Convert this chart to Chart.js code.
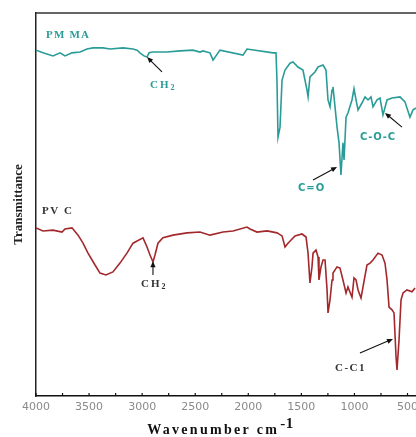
<!DOCTYPE html>
<html>
<head>
<meta charset="utf-8">
<script src="https://cdn.jsdelivr.net/npm/chart.js@4.4.0/dist/chart.umd.min.js"></script>
<style>
html,body{margin:0;padding:0;background:#fff;overflow:hidden;}
canvas{display:block;}
</style>
</head>
<body>
<canvas id="c" width="416" height="437"></canvas>
<script>
// ---- Data ----
const xTickLabels = [4000, 3500, 3000, 2500, 2000, 1500, 1000, 500];
const minorTicks = [4000, 3750, 3500, 3250, 3000, 2750, 2500, 2250, 2000, 1750, 1500, 1250, 1000, 750, 500];

const pmmaWavenumber = [4000,3934,3840,3774,3727,3661,3585,3520,3463,3369,3303,3180,3086,3048,3020,2983,2954,2935,2898,2766,2643,2521,2455,2427,2361,2332,2267,2050,2012,1767,1739,1730,1720,1701,1682,1654,1607,1579,1532,1485,1447,1437,1419,1372,1343,1296,1268,1249,1230,1211,1202,1183,1164,1145,1127,1108,1098,1079,1061,1023,1004,985,966,929,900,872,844,825,787,759,731,693,646,571,524,477,448,420];
const pmmaT = [90.3,89.6,88.8,89.6,88.8,89.6,89.8,90.6,90.9,90.9,90.6,90.9,90.6,90.3,89.6,88.8,88.5,89.6,89.8,89.8,90.1,90.3,89.8,90.1,89.6,87.7,90.3,89.0,90.6,89.6,89.6,82.5,67.6,70.2,82.5,85.1,86.9,87.2,85.9,85.1,79.9,78.1,83.3,84.6,85.9,86.4,85.1,77.3,75.5,79.9,80.7,75.5,70.2,66.1,57.7,66.1,61.6,72.8,73.9,77.3,80.2,77.3,74.7,76.5,78.1,77.3,78.1,75.5,77.3,77.8,73.4,77.3,77.8,78.1,76.8,72.8,74.7,75.2];

const pvcWavenumber = [4000,3934,3840,3755,3727,3661,3604,3557,3510,3444,3397,3341,3275,3209,3143,3086,2992,2954,2926,2898,2879,2851,2804,2709,2577,2455,2361,2238,2144,2012,1984,1918,1824,1729,1682,1654,1626,1560,1494,1456,1437,1419,1400,1390,1362,1343,1334,1315,1296,1277,1258,1249,1230,1211,1202,1164,1136,1108,1079,1061,1023,1004,985,966,938,919,882,853,825,778,740,712,693,674,646,627,608,599,580,561,542,505,458,429];
const pvcT = [43.9,43.1,43.3,42.8,43.6,43.9,42.0,39.9,37.3,34.2,32.1,31.6,32.4,34.7,37.3,39.9,41.3,38.9,36.8,35.0,36.8,39.9,41.3,42.0,42.6,42.8,42.0,42.8,43.1,44.1,43.6,42.8,43.1,42.6,41.8,38.9,39.9,41.8,42.3,41.5,37.3,29.5,33.7,37.3,38.1,36.3,30.3,33.7,35.5,35.5,27.7,21.7,25.1,30.3,32.1,33.7,33.4,30.3,26.9,28.5,25.8,30.8,30.3,27.7,25.6,28.5,34.2,34.7,35.5,37.3,36.8,34.7,30.3,23.2,22.5,21.7,10.2,6.8,14.6,25.1,26.9,27.7,27.2,28.2];

const seriesNames = ['PMMA', 'PVC'];

// ---- Annotations (in data coordinates) ----
const TEAL = '#2a9c98';
const RED = '#a3282b';
const labels = [
  {parts:[['PM MA',0]], x:3906, y:94.3, color:TEAL, font:'bold 11px "Liberation Serif"', ls:1.2},
  {parts:[['PV C',0]], x:3943, y:48.3, color:'#333', font:'bold 11px "Liberation Serif"', ls:1.5},
  {parts:[['CH',0],['2',1]], x:2926, y:81.2, color:TEAL, font:'bold 11px "Liberation Serif"', ls:2},
  {parts:[['C=O',0]], x:1532, y:54.3, color:TEAL, font:'bold 10px "DejaVu Sans"', ls:1},
  {parts:[['C-O-C',0]], x:948, y:67.4, color:TEAL, font:'bold 10px "DejaVu Sans"', ls:0.8},
  {parts:[['CH',0],['2',1]], x:3011, y:29.2, color:'#333', font:'bold 11px "Liberation Serif"', ls:2},
  {parts:[['C-C1',0]], x:1183, y:7.3, color:'#333', font:'bold 11px "Liberation Serif"', ls:1.5}
];
const arrows = [
  {x1:2813, y1:84.6, x2:2954, y2:88.5},
  {x1:1390, y1:56.4, x2:1164, y2:59.8},
  {x1:552, y1:70.2, x2:712, y2:73.9},
  {x1:2898, y1:31.6, x2:2898, y2:35.2},
  {x1:948, y1:11.2, x2:637, y2:14.9}
];

function toXY(xs, ys){ return xs.map((x,i)=>({x:x, y:ys[i]})); }

const decor = {
  id:'decor',
  afterDraw(chart){
    const ctx = chart.ctx, ca = chart.chartArea;
    const sx = chart.scales.x, sy = chart.scales.y;
    ctx.save();
    // top frame line
    ctx.strokeStyle = '#333'; ctx.lineWidth = 1.5;
    ctx.beginPath(); ctx.moveTo(ca.left, ca.top); ctx.lineTo(ca.right, ca.top); ctx.stroke();
    // inward minor ticks
    ctx.strokeStyle = '#111'; ctx.lineWidth = 1.2;
    minorTicks.forEach(v=>{
      const px = sx.getPixelForValue(v);
      ctx.beginPath(); ctx.moveTo(px, ca.bottom); ctx.lineTo(px, ca.bottom-3); ctx.stroke();
    });
    // arrows
    ctx.strokeStyle = '#111'; ctx.fillStyle = '#111'; ctx.lineWidth = 1.1;
    arrows.forEach(a=>{
      const x1 = sx.getPixelForValue(a.x1), y1 = sy.getPixelForValue(a.y1);
      const x2 = sx.getPixelForValue(a.x2), y2 = sy.getPixelForValue(a.y2);
      const ang = Math.atan2(y2-y1, x2-x1);
      const L = 6, W = 2.6;
      ctx.beginPath(); ctx.moveTo(x1,y1); ctx.lineTo(x2 - Math.cos(ang)*L*0.6, y2 - Math.sin(ang)*L*0.6); ctx.stroke();
      ctx.beginPath();
      ctx.moveTo(x2,y2);
      ctx.lineTo(x2 - Math.cos(ang)*L - Math.sin(ang)*W, y2 - Math.sin(ang)*L + Math.cos(ang)*W);
      ctx.lineTo(x2 - Math.cos(ang)*L + Math.sin(ang)*W, y2 - Math.sin(ang)*L - Math.cos(ang)*W);
      ctx.closePath(); ctx.fill();
    });
    // labels
    labels.forEach(l=>{
      let px = sx.getPixelForValue(l.x), py = sy.getPixelForValue(l.y);
      ctx.fillStyle = l.color; ctx.textBaseline = 'middle'; ctx.textAlign = 'left';
      l.parts.forEach(p=>{
        if (p[1]) { ctx.font = l.font.replace('11px','8px').replace('10px','8px'); }
        else ctx.font = l.font;
        ctx.letterSpacing = l.ls + 'px';
        ctx.fillText(p[0], px, py + (p[1] ? 3 : 0));
        px += ctx.measureText(p[0]).width;
      });
    });
    // x axis title with superscript
    ctx.fillStyle = '#111'; ctx.textBaseline = 'alphabetic';
    ctx.font = 'bold 14px "Liberation Serif"';
    ctx.letterSpacing = '2.3px';
    const main = 'Wavenumber cm';
    const wMain = ctx.measureText(main).width;
    ctx.font = 'bold 15px "Liberation Serif"';
    ctx.letterSpacing = '0.5px';
    const wSup = ctx.measureText('-1').width;
    const start = 220 - (wMain + wSup)/2;
    ctx.font = 'bold 14px "Liberation Serif"';
    ctx.letterSpacing = '2.3px';
    ctx.fillText(main, start, 434);
    ctx.font = 'bold 15px "Liberation Serif"';
    ctx.letterSpacing = '0.5px';
    ctx.fillText('-1', start + wMain + 1, 428);
    ctx.restore();
  }
};

new Chart(document.getElementById('c'), {
  type:'line',
  data:{
    datasets:[
      {label:seriesNames[0], data:toXY(pmmaWavenumber, pmmaT), borderColor:TEAL, borderWidth:1.6, pointRadius:0, tension:0, fill:false},
      {label:seriesNames[1], data:toXY(pvcWavenumber, pvcT), borderColor:RED, borderWidth:1.6, pointRadius:0, tension:0, fill:false}
    ]
  },
  options:{
    responsive:false, animation:false,
    layout:{padding:{top:13, right:0, left:0, bottom:0}},
    plugins:{legend:{display:false}, tooltip:{enabled:false}},
    scales:{
      x:{
        type:'linear', reverse:true, min:420, max:4000,
        afterBuildTicks(s){ s.ticks = xTickLabels.map(v=>({value:v})); },
        afterFit(s){ s.height = 41; s.paddingLeft = 0; s.paddingRight = 0; },
        grid:{display:false, drawTicks:false},
        border:{display:true, color:'#111', width:1.5},
        ticks:{color:'#8a8a8a', font:{family:'DejaVu Sans', size:11}, padding:5, maxRotation:0, autoSkip:false,
               callback:(v)=>String(v)}
      },
      y:{
        min:0, max:100,
        afterFit(s){ s.width = 36; },
        grid:{display:false, drawTicks:false},
        border:{display:true, color:'#222', width:1.5},
        ticks:{display:false},
        title:{display:true, text:'Transmittance', color:'#222', font:{family:'Liberation Serif', size:13, weight:'bold'}, padding:{top:11, bottom:0}}
      }
    }
  },
  plugins:[decor]
});
</script>
</body>
</html>
